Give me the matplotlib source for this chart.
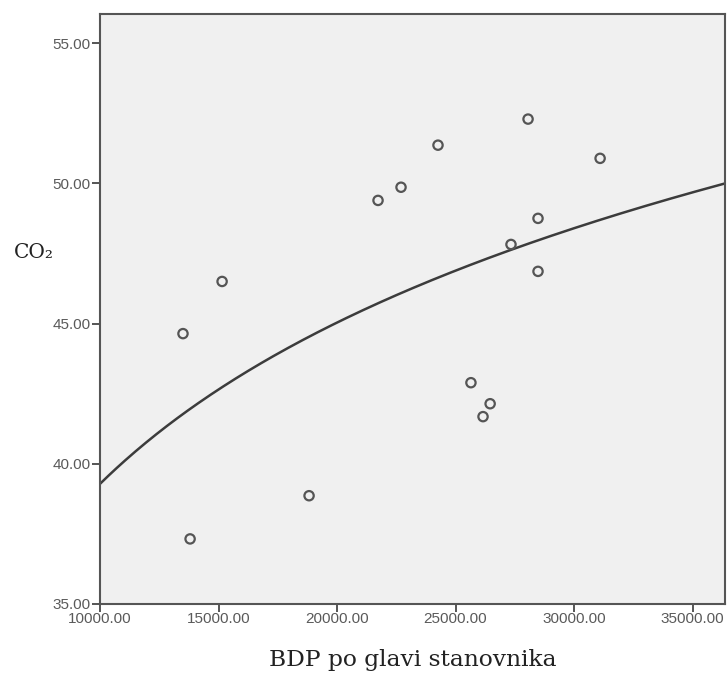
import numpy as np
import matplotlib
matplotlib.use("Agg")
import matplotlib.pyplot as plt

# Data
gdp = [13500, 13800, 15150, 18820, 21730, 22700, 24260, 25650, 26160, 26460,
       27340, 28060, 28480, 28480, 31100]
co2 = [44.64, 37.32, 46.50, 38.86, 49.39, 49.86, 51.36, 42.89, 41.68, 42.14,
       47.82, 52.29, 48.75, 46.86, 50.89]
x_ticks = [10000, 15000, 20000, 25000, 30000, 35000]
y_ticks = [35, 40, 45, 50, 55]

# Logarithmic fit y = a + b*ln(x)
b, a = np.polyfit(np.log(gdp), co2, 1)

fig = plt.figure(figsize=(7.27, 6.79), dpi=100)
ax = fig.add_axes([0.1376, 0.1105, 0.859, 0.869])
ax.set_facecolor("#f0f0f0")

xmin, xmax = 10000, 36350
ymin, ymax = 35, 56.04
xs = np.linspace(xmin, xmax, 300)
ax.plot(xs, a + b * np.log(xs), color="#3c3c3c", lw=1.8, zorder=2)
ax.scatter(gdp, co2, s=45, facecolors="none", edgecolors="#555555",
           linewidths=1.6, zorder=3)

ax.set_xlim(xmin, xmax)
ax.set_ylim(ymin, ymax)
ax.set_xticks(x_ticks)
ax.set_yticks(y_ticks)
ax.set_xticklabels([f"{v:.2f}" for v in x_ticks])
ax.set_yticklabels([f"{v:.2f}" for v in y_ticks])
for s in ax.spines.values():
    s.set_color("#555555")
    s.set_linewidth(1.5)
ax.tick_params(direction="out", length=6, width=1.4, color="#555555",
               labelcolor="#5a5a5a", labelsize=11, pad=1)
ax.tick_params(axis="x", pad=0)
for lab in ax.get_xticklabels() + ax.get_yticklabels():
    lab.set_family(["Liberation Sans", "DejaVu Sans"])

ax.set_xlabel("BDP po glavi stanovnika", family=["DejaVu Serif"],
              fontsize=16.8, color="#222222", labelpad=16)
fig.text(0.019, 0.628, "CO₂", family=["DejaVu Serif"],
         fontsize=14.5, color="#222222", va="center", ha="left")

fig.savefig("out.png", dpi=100, facecolor="white")
